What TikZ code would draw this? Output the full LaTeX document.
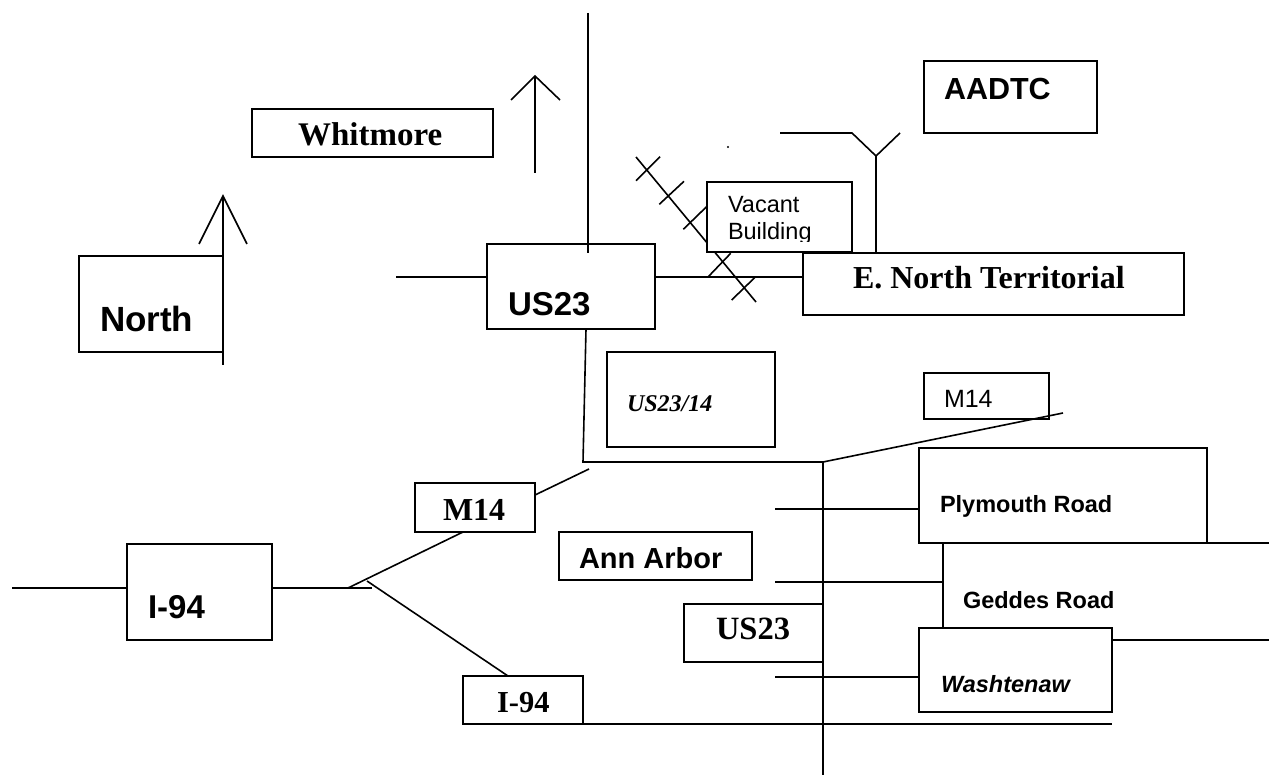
\documentclass[tikz,border=0pt]{standalone}
\usepackage{fontspec}
\setmainfont{Liberation Serif}
\newfontfamily\sansf{Liberation Sans}
\newcommand{\setfs}[1]{\fontsize{#1}{#1}\selectfont}
\begin{document}
\begin{tikzpicture}[x=1pt,y=-1pt,
  box/.style={draw, line width=1.8pt, inner sep=0pt, outer sep=0pt, anchor=north west},
  road/.style={line width=1.6pt},
  lbl/.style={anchor=base west, inner sep=0pt, outer sep=0pt},
  serifb/.style={font=\bfseries\setfs{#1}},
  sansb/.style={font=\sansf\bfseries\setfs{#1}},
  sansr/.style={font=\sansf\setfs{#1}}]
\useasboundingbox (0,0) rectangle (1269,775);

% ---------- railroad (behind the vacant building box)
\coordinate (rrA) at (636,157);
\coordinate (rrB) at (756,302);
\draw[road] (rrA) -- (rrB);
\draw[road] (636,180.7) -- (660,156.7);
\draw[road] (659.3,204.3) -- (684,181.3);
\draw[road] (683.3,229.3) -- (707.3,206);
\draw[road] (708.3,276.7) -- (730.7,253.3);
\draw[road] (731.7,300) -- (755,277.3);

% ---------- boxes
\node[box, minimum width=241pt, minimum height=48pt] (whit) at (252,109) {};
\node[box, minimum width=144pt, minimum height=96pt] (north) at (79,256) {};
\node[box, minimum width=168pt, minimum height=85pt] (us23top) at (487,244) {};
\node[box, fill=white, minimum width=145pt, minimum height=70pt] (vacant) at (707,182) {};
\node[box, minimum width=173pt, minimum height=72pt] (aadtc) at (924,61) {};
\node[box, minimum width=381pt, minimum height=62pt] (entb) at (803,253) {};
\node[box, minimum width=168pt, minimum height=95pt] (us2314) at (607,352) {};
\node[box, minimum width=125pt, minimum height=46pt] (m14r) at (924,373) {};
\node[box, minimum width=288pt, minimum height=95pt] (plym) at (919,448) {};
\node[box, minimum width=193pt, minimum height=48pt] (annarbor) at (559,532) {};
\node[box, minimum width=120pt, minimum height=49pt] (m14l) at (415,483) {};
\node[box, minimum width=145pt, minimum height=96pt] (i94l) at (127,544) {};
\node[box, minimum width=139pt, minimum height=58pt] (us23b) at (684,604) {};
\node[box, minimum width=193pt, minimum height=84pt] (wash) at (919,628) {};
\node[box, minimum width=120pt, minimum height=48pt] (i94b) at (463,676) {};

% ---------- labels
\node[lbl, serifb=33] (tWhit) at (298,146) {Whitmore};
\node[lbl, sansb=35] (tNorth) at (100,332) {North};
\node[lbl, sansb=33] (tUS23top) at (508,316) {US23};
\begin{scope}
\clip (700,180) rectangle (860,242);
\node[lbl, sansr=23.5] (tVacant) at (728,213) {Vacant};
\node[lbl, sansr=23.5] (tBuilding) at (728,240) {Building};
\end{scope}
\node[lbl, sansb=30.5] (tAADTC) at (944,100) {AADTC};
\node[lbl, serifb=32] (tENT) at (853,289) {E. North Territorial};
\node[lbl, font=\bfseries\itshape\setfs{24}] (tUS2314) at (627,412) {US23/14};
\node[lbl, sansr=25] (tM14r) at (944,408) {M14};
\node[lbl, sansb=23.5] (tPlym) at (940,512) {Plymouth Road};
\node[lbl, sansb=23.5] (tGeddes) at (963,608) {Geddes Road};
\node[lbl, font=\sansf\bfseries\itshape\setfs{23.5}] (tWash) at (941,692) {Washtenaw};
\node[lbl, sansb=29] (tAnn) at (579,568) {Ann Arbor};
\node[lbl, serifb=32] (tM14l) at (443,520) {M14};
\node[lbl, sansb=33] (tI94l) at (148,618) {I-94};
\node[lbl, serifb=32.5] (tUS23b) at (716,639) {US23};
\node[lbl, serifb=30.5] (tI94b) at (497,712) {I-94};
\fill (728,147) circle (1.2pt);

% ---------- north arrows
\coordinate (arA) at (223,365);
\coordinate (arAtip) at (223,196);
\draw[road] (arA) -- (arAtip);
\draw[road] (199,244) -- (arAtip) -- (247,244);
\coordinate (arB) at (535,173);
\coordinate (arBtip) at (535,76);
\draw[road] (arB) -- (arBtip);
\draw[road] (511,100) -- (arBtip) -- (560,100);

% ---------- roads around top US23
\coordinate (y277) at (0,277);
\coordinate (wEnd) at (396,277);
\coordinate (nTop) at (588,13);
\draw[road] (nTop) -- (588,253);
\draw[road] (wEnd) -- (us23top.west |- y277);
\draw[road] (us23top.east |- y277) -- (entb.west |- y277);

% ---------- Y fork near AADTC
\coordinate (yL) at (780,133);
\coordinate (yJ) at (876,156);
\draw[road] (yL) -- (852,133) -- (yJ);
\draw[road] (900,133) -- (yJ);
\draw[road] (yJ) -- (entb.north -| yJ);
\draw[line width=2.6pt] (aadtc.south west) -- ++(49,0);

% ---------- US23 south, M14 east
\coordinate (sBend) at (583,462);
\coordinate (jct) at (823,462);
\coordinate (m14end) at (1063,413);
\coordinate (sEnd) at (823,775);
\draw[road] (586,329) -- (sBend) -- (jct);
\draw[road] (jct) -- (m14end);
\draw[road] (jct) -- (sEnd);

% ---------- M14 west
\draw[road] (589,469) -- (m14l.east |- 0,495);

% ---------- I-94 west and fork
\coordinate (i94w) at (12,588);
\coordinate (fork) at (372,588);
\draw[road] (i94w) -- (i94l.west |- i94w);
\draw[road] (i94l.east |- i94w) -- (fork);
\draw[road] (348,588) -- (463,532);
\draw[road] (367,581) -- (508,676);

% ---------- local streets
\draw[road] (775,509) -- (plym.west |- 0,509);
\draw[road] (775,582) -- (943,582);
\draw[road] (plym.south -| 943,0) -- (wash.north -| 943,0);
\draw[road] (plym.south east) -- (1269,543);
\draw[road] (775,677) -- (wash.west |- 0,677);
\draw[road] (wash.east |- 0,640) -- (1269,640);
\draw[road] (i94b.south east) -- (1112,724);
\end{tikzpicture}
\end{document}
